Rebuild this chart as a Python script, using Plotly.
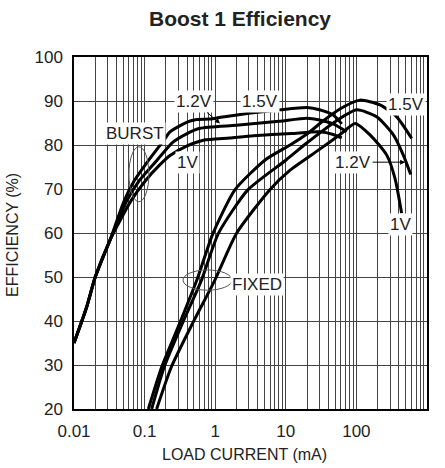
import math
import plotly.graph_objects as go

# Burst-mode efficiency vs load current (mA -> %)
burst_15v_x = [0.01, 0.015, 0.02, 0.0324, 0.051, 0.071, 0.115, 0.188, 0.229, 0.4, 0.55, 0.85, 1.2, 3, 8.3, 20, 30, 47, 62]
burst_15v_y = [35, 43, 50, 58.4, 67.2, 71.8, 76.6, 81.1, 83.0, 85.2, 85.8, 85.9, 86.3, 87.2, 88.0, 88.5, 88.0, 86.8, 84.8]

burst_12v_x = [0.01, 0.015, 0.02, 0.0324, 0.056, 0.085, 0.151, 0.25, 0.4, 0.61, 2, 8, 19.8, 30, 47, 73]
burst_12v_y = [35, 43, 50, 58.4, 67.3, 72, 76.6, 80.6, 82.6, 83.8, 84.5, 85.4, 86.1, 85.7, 84.8, 83.0]

burst_1v_x = [0.01, 0.015, 0.02, 0.0324, 0.064, 0.104, 0.16, 0.229, 0.4, 0.68, 1.6, 3.47, 12, 30, 47, 62]
burst_1v_y = [35, 43, 50, 58.4, 67.3, 72, 75.3, 77.6, 79.8, 81.1, 81.6, 82.1, 82.6, 83.0, 82.4, 81.6]

# Fixed-frequency efficiency vs load current
fixed_15v_x = [0.113, 0.175, 0.32, 0.55, 0.93, 1.9, 5.1, 11.5, 20, 34, 60, 112, 216, 372, 607]
fixed_15v_y = [20, 29.6, 39.8, 49.3, 59.9, 69.8, 76.6, 80.0, 82.5, 85.5, 88.3, 90.2, 89.1, 86.4, 81.5]

fixed_12v_x = [0.126, 0.19, 0.35, 0.64, 1.11, 2.9, 10.1, 20, 50, 101, 194, 334, 462, 588]
fixed_12v_y = [20, 29.6, 39.8, 49.3, 59.9, 69.8, 76.6, 80.5, 85.3, 88.0, 86.4, 82.3, 77.7, 73.3]

fixed_1v_x = [0.148, 0.24, 0.49, 0.99, 2.0, 5.9, 11.5, 30, 60, 96, 156, 269, 352, 437]
fixed_1v_y = [20, 29.6, 39.8, 49.3, 59.9, 69.8, 74.3, 79.0, 82.5, 84.9, 82.3, 77.7, 72.4, 64.5]

x_decades = [0.01, 0.1, 1, 10, 100, 1000]
x_decade_labels = ["0.01", "0.1", "1", "10", "100", "1000"]
y_ticks = [20, 30, 40, 50, 60, 70, 80, 90, 100]

FONT = "Liberation Sans, Arial, Helvetica, sans-serif"
TEXT = "#222"

# grid at every 1..9 multiple of each decade, labels only on decades
x_tickvals, x_ticktext = [], []
for d, lab in zip(x_decades, x_decade_labels):
    for m in range(1, 10):
        v = d * m
        if v > x_decades[-1]:
            break
        x_tickvals.append(v)
        x_ticktext.append(lab if m == 1 else "")

fig = go.Figure()
line_style = dict(color="black", width=3, shape="spline", smoothing=0.6)
for xs, ys, name in [
    (burst_15v_x, burst_15v_y, "Burst 1.5V"),
    (burst_12v_x, burst_12v_y, "Burst 1.2V"),
    (burst_1v_x, burst_1v_y, "Burst 1V"),
    (fixed_15v_x, fixed_15v_y, "Fixed 1.5V"),
    (fixed_12v_x, fixed_12v_y, "Fixed 1.2V"),
    (fixed_1v_x, fixed_1v_y, "Fixed 1V"),
]:
    fig.add_trace(go.Scatter(x=xs, y=ys, mode="lines", line=line_style, name=name,
                             hoverinfo="skip"))

fig.update_layout(
    width=445, height=468,
    margin=dict(l=74, r=18, t=57, b=59),
    paper_bgcolor="white", plot_bgcolor="white",
    showlegend=False,
    font=dict(family=FONT, size=16, color=TEXT),
    title=dict(text="<b>Boost 1 Efficiency</b>", x=240 / 445, xanchor="center",
               y=1 - 19 / 468, yanchor="middle", font=dict(size=21, color=TEXT)),
)
fig.update_xaxes(
    type="log", range=[-2, 3], tickmode="array", tickvals=x_tickvals, ticktext=x_ticktext,
    showgrid=True, gridcolor="#444", gridwidth=1.2, ticks="", zeroline=False,
    showline=True, linecolor="black", linewidth=1.5, mirror=True, automargin=False,
    ticklabelstandoff=6, tickfont=dict(size=17),
)
fig.update_yaxes(
    range=[20, 100], tickmode="array", tickvals=y_ticks,
    showgrid=True, gridcolor="#444", gridwidth=1.2, ticks="", zeroline=False,
    showline=True, linecolor="black", linewidth=1.5, mirror=True, automargin=False,
    ticklabelstandoff=6, tickfont=dict(size=17),
)

# axis titles placed relative to the plotting area
fig.add_annotation(text="LOAD CURRENT (mA)", xref="paper", yref="paper", x=0.484, y=-0.128,
                   showarrow=False, font=dict(size=16, color=TEXT), xanchor="center", yanchor="middle")
fig.add_annotation(text="EFFICIENCY (%)", xref="paper", yref="paper", x=-0.176, y=0.494,
                   showarrow=False, textangle=-90, font=dict(size=16, color=TEXT),
                   xanchor="center", yanchor="middle")

lg = math.log10


def label(text, x, y, **kw):
    fig.add_annotation(x=lg(x), y=y, xref="x", yref="y", text=text, showarrow=False,
                       bgcolor="white", font=dict(size=17, color=TEXT), borderpad=1, **kw)


label("BURST", 0.072, 82.6)
label("1V", 0.41, 76.1)
label("1.5V", 4.3, 90.0)
label("1.5V", 505, 89.1)
label("1V", 415, 62.0)
label("FIXED", 3.9, 48.4)

# labels with arrows
fig.add_annotation(x=lg(1.17), y=84.9, xref="x", yref="y", text="1.2V", showarrow=True,
                   ax=-26, ay=-22, arrowhead=2, arrowsize=1, arrowwidth=1, arrowcolor="black",
                   bgcolor="white", font=dict(size=17, color=TEXT), borderpad=1)
fig.add_annotation(x=lg(490), y=76.1, xref="x", yref="y", text="1.2V", showarrow=True,
                   ax=-52, ay=0, arrowhead=2, arrowsize=1, arrowwidth=1, arrowcolor="black",
                   bgcolor="white", font=dict(size=17, color=TEXT), borderpad=1)

# ellipses grouping the burst and fixed curve families
fig.add_shape(type="circle", xref="x", yref="y", x0=0.060, x1=0.115, y0=67.1, y1=79.6,
              line=dict(color="#555", width=1))
fig.add_shape(type="circle", xref="x", yref="y", x0=0.35, x1=1.73, y0=47.0, y1=51.6,
              line=dict(color="#555", width=1))

fig.write_html("out.html")
